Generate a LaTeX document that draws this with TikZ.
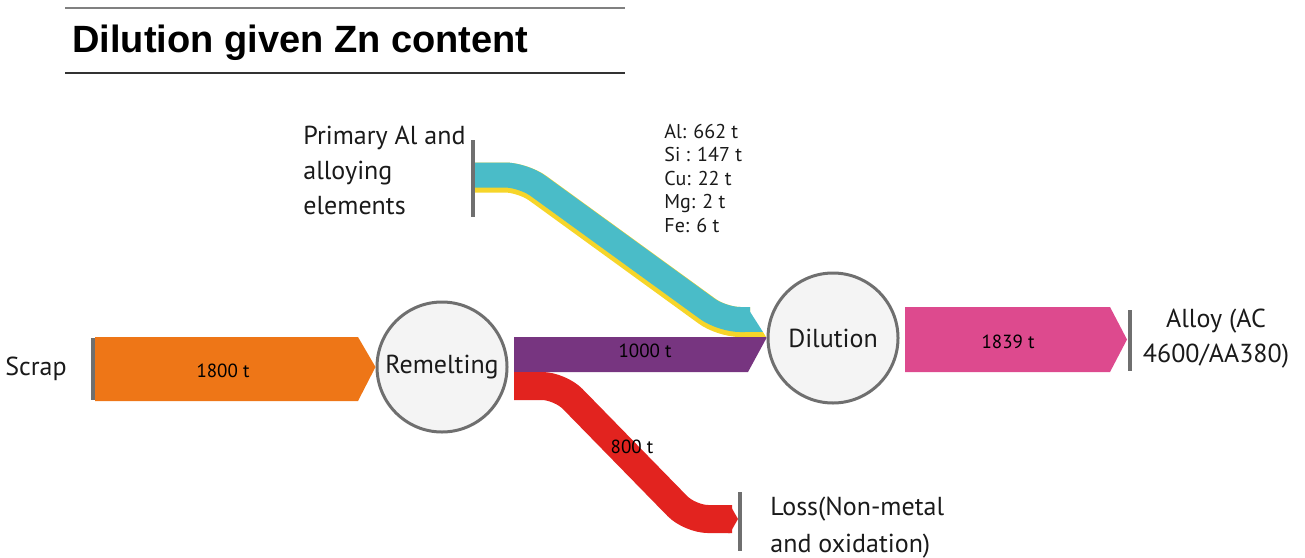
\documentclass[tikz,border=0pt]{standalone}
\usepackage{xcolor}
\usepackage{fontspec}
\setmainfont{PT Sans}
\newfontfamily\titlefont{Liberation Sans}
\usepackage{tikz}

\definecolor{scrapcol}{RGB}{238,118,23}
\definecolor{remcol}{RGB}{119,53,128}
\definecolor{losscol}{RGB}{226,35,31}
\definecolor{alloycol}{RGB}{221,74,142}
\definecolor{alcol}{RGB}{74,188,200}
\definecolor{elcol}{RGB}{246,213,42}
\definecolor{ringgray}{RGB}{111,111,111}
\definecolor{procfill}{RGB}{244,244,244}
\definecolor{txt}{RGB}{26,26,26}

\begin{document}
\begin{tikzpicture}[x=0.5pt,y=-0.5pt,
    proc/.style={circle,draw=ringgray,fill=procfill,line width=1.5pt,minimum size=65pt,inner sep=0pt,text=txt,font=\fontsize{13}{15}\selectfont},
    bar/.style={draw=ringgray,line width=2pt},
    lbl/.style={inner sep=0pt,text=txt,font=\fontsize{13}{17.5}\selectfont},
    qty/.style={inner sep=0pt,anchor=base,font=\fontsize{9.5}{11}\selectfont},
    elt/.style={inner sep=0pt,anchor=base west,text=txt,font=\fontsize{10}{12}\selectfont},
    band/.style={line cap=butt,rounded corners=9pt}]
                    \useasboundingbox (0,0) rectangle (1305,557);
                    \draw[line width=1pt,gray] (65,8) -- (625,8);
                    \draw[line width=0.8pt,black!80] (65,73) -- (625,73);
                    \node[anchor=base west,inner sep=0pt] (title) at (72,52) {\titlefont\bfseries\fontsize{19}{22}\selectfont Dilution given Zn content};
                    \node[proc] (remelt) at (442,367) {Remelting};
                    \node[proc] (dil) at (833,338) {Dilution};
                    \draw[bar] (93,338) -- (93,400);
                    \draw[bar] (473,140) -- (473,217);
                    \draw[bar] (740,492) -- (740,551);
                    \draw[bar] (1130,310) -- (1130,371);
                    \fill[scrapcol] (95,337) -- (358,337) -- (remelt.west) -- (358,401) -- (95,401) -- cycle;
                    \draw[band,elcol,line width=15pt] (475,177.5) -- (523,177.5) -- (722,322) -- (750,322);
                    \draw[band,alcol,line width=12.5pt] (475,175) -- (523,175) -- (722,319.5) -- (750,319.5);
                    \fill[alcol] (745,307) -- (747,307) -- (763,332) -- (745,332) -- cycle;
                    \fill[elcol] (745,332) -- (763,332) -- (766,337) -- (745,337) -- cycle;
                    \fill[remcol] (514,337) -- (766,337) -- (dil.west) -- (748,372) -- (514,372) -- cycle;
                    \draw[band,losscol,line width=14pt] (514,386) -- (560,386) -- (690,519) -- (732,519);
                    \fill[losscol] (728,505) -- (730,505) -- (738,519) -- (730,533) -- (728,533) -- cycle;
                    \fill[alloycol] (905,307) -- (1110,307) -- (1127,339.5) -- (1110,372) -- (905,372) -- cycle;
                    \node[qty] (q1) at (223,377) {1800 t};
                    \node[qty] (q2) at (645,357) {1000 t};
                    \node[qty] (q3) at (632,453) {800 t};
                    \node[qty] (q4) at (1008,348) {1839 t};
                    \foreach \t [count=\i from 0] in {Al: 662 t,Si : 147 t,Cu: 22 t,Mg: 2 t,Fe: 6 t}
                        \node[elt] (el\i) at (664,{138+23.5*\i}) {\t};
                    \node[lbl,anchor=base] (scrap) at (36,375) {Scrap};
                    \node[lbl,anchor=base west,align=left] (prim) at (303,214) {Primary Al and\\alloying\\elements};
                    \node[lbl,anchor=base west,align=left,font=\fontsize{13}{18.5}\selectfont] (loss) at (770,552) {Loss(Non-metal\\and oxidation)};
                    \node[lbl,anchor=base,align=center] (alloy) at (1216,362) {Alloy (AC\\4600/AA380)};
                \end{tikzpicture}
\end{document}
